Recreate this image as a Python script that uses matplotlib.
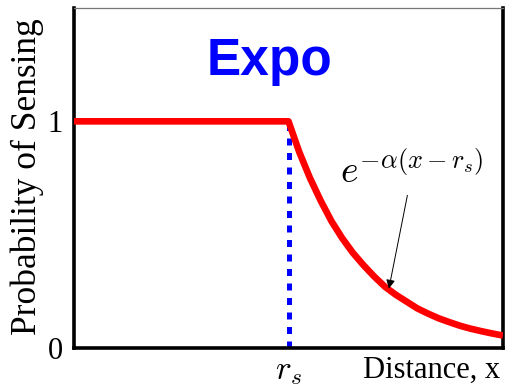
import matplotlib
matplotlib.use("Agg")
import matplotlib.pyplot as plt

# Sensing probability versus distance (distance normalised to the axis range)
r_s = 0.5
flat_x = [0.0, 0.5]
flat_p = [1.0, 1.0]
decay_x = [0.500, 0.525, 0.550, 0.575, 0.600, 0.625, 0.650, 0.675, 0.700,
           0.725, 0.750, 0.775, 0.800, 0.825, 0.850, 0.875, 0.900, 0.925,
           0.950, 0.975, 1.000]
decay_p = [1.000, 0.865, 0.750, 0.650, 0.560, 0.485, 0.420, 0.365, 0.315,
           0.270, 0.235, 0.205, 0.175, 0.152, 0.131, 0.114, 0.098, 0.085,
           0.074, 0.064, 0.055]
ytick_vals = [0, 1]
ytick_labels = ["0", "1"]
xtick_vals = [r_s]
xtick_labels = [r"$r_s$"]

plt.rcParams["mathtext.fontset"] = "cm"
serif = "Liberation Serif"

fig = plt.figure(figsize=(5.07, 3.86), dpi=100)
ax = fig.add_axes([74 / 507, 1 - 348 / 386, 429 / 507, 340 / 386])

ax.plot([r_s, r_s], [0, 1], color="#0000ff", lw=3.6,
        dashes=(1.4, 1.5), solid_capstyle="butt", zorder=2)
ax.plot(flat_x + decay_x[1:], flat_p + decay_p[1:], color="#ff0000", lw=4.8,
        solid_joinstyle="round", solid_capstyle="butt", zorder=3)

ax.set_xlim(0, 1)
ax.set_ylim(0, 1.5)
ax.set_yticks(ytick_vals)
ax.set_yticklabels(ytick_labels, fontfamily=serif, fontsize=22)
ax.set_xticks(xtick_vals)
ax.set_xticklabels(xtick_labels, fontsize=24)
ax.tick_params(axis="both", length=0)
ax.tick_params(axis="y", pad=8)
ax.tick_params(axis="x", pad=4)

for side in ("left", "bottom", "right"):
    ax.spines[side].set_linewidth(2.6)
    ax.spines[side].set_color("black")
ax.spines["top"].set_linewidth(0.9)
ax.spines["top"].set_color("#777777")

ax.annotate(r"$e^{-\alpha(x-r_s)}$", xy=(0.734, 0.262), xytext=(0.788, 0.727),
            fontsize=27, ha="center", va="baseline",
            arrowprops=dict(arrowstyle="-|>", color="black", lw=0.7,
                            mutation_scale=13, shrinkA=1, shrinkB=0))

fig.text(270 / 507, 1 - 61 / 386, "Expo", color="#0000ff", fontsize=37,
         fontweight="bold", fontfamily="Liberation Sans", ha="center", va="center")
fig.text(27 / 507, 1 - 177 / 386, "Probability of Sensing", rotation=90,
         fontfamily=serif, fontsize=25.5, ha="center", va="center")
fig.text(500 / 507, 1 - 378 / 386, "Distance, x", fontfamily=serif,
         fontsize=22, ha="right", va="baseline")

fig.savefig("out.png", dpi=100)
